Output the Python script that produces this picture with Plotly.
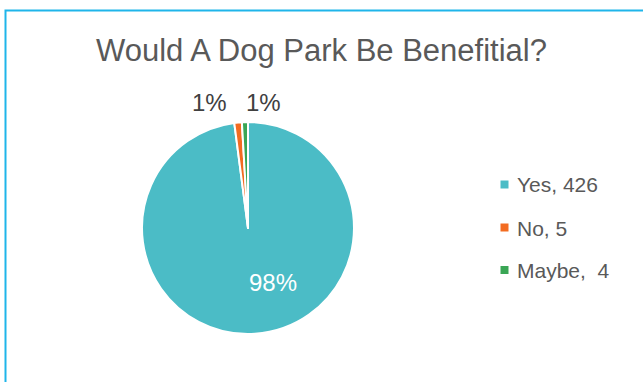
import plotly.graph_objects as go

categories = ["Yes", "No", "Maybe"]
legend_labels = ["Yes, 426", "No, 5", "Maybe,&nbsp;&nbsp;4"]
values = [426, 5, 4]
colors = ["#4BBCC6", "#F36C21", "#3AA655"]

W, H = 643, 382
FONT = "Liberation Sans"
total = sum(values)
pcts = [f"{round(v / total * 100)}%" for v in values]

fig = go.Figure()
fig.add_trace(go.Pie(
    labels=categories, values=values, sort=False, direction="clockwise", rotation=0,
    marker=dict(colors=colors, line=dict(color="white", width=2)),
    textinfo="none", hoverinfo="label+value+percent", showlegend=False,
    domain=dict(x=[142 / W, 354 / W], y=[1 - 334 / H, 1 - 122 / H]),
))

# percentage labels
label_pos = [(272.5, 282, "white"), (209, 103, "#404040"), (263, 103, "#404040")]
for (x, y, c), p in zip(label_pos, pcts):
    fig.add_annotation(x=x / W, y=1 - y / H, xref="paper", yref="paper", text=p,
                       showarrow=False, xanchor="center", yanchor="middle",
                       font=dict(size=24, color=c, family=FONT))

# legend
leg_y = [184.5, 227.5, 270]
for lab, c, y in zip(legend_labels, colors, leg_y):
    fig.add_shape(type="rect", xref="paper", yref="paper",
                  x0=500.5 / W, x1=508.5 / W, y0=1 - (y + 4) / H, y1=1 - (y - 4) / H,
                  fillcolor=c, line=dict(width=0))
    fig.add_annotation(x=515 / W, y=1 - (y + 0.5) / H, xref="paper", yref="paper", text=lab,
                       showarrow=False, xanchor="left", yanchor="middle",
                       font=dict(size=21, color="#595959", family=FONT))

# frame
fig.add_shape(type="rect", xref="paper", yref="paper",
              x0=5.5 / W, x1=1.2, y0=-0.2, y1=1 - 10.5 / H,
              line=dict(color="#1FB5EA", width=2), fillcolor="rgba(0,0,0,0)")

fig.update_layout(
    width=W, height=H, margin=dict(l=0, r=0, t=0, b=0),
    paper_bgcolor="white", plot_bgcolor="white",
    title=dict(text="Would A Dog Park Be Benefitial?", x=321.5 / W, xanchor="center",
               y=1 - 50 / H, yanchor="middle",
               font=dict(size=31, color="#595959", family=FONT)),
)

fig.write_html("out.html")
